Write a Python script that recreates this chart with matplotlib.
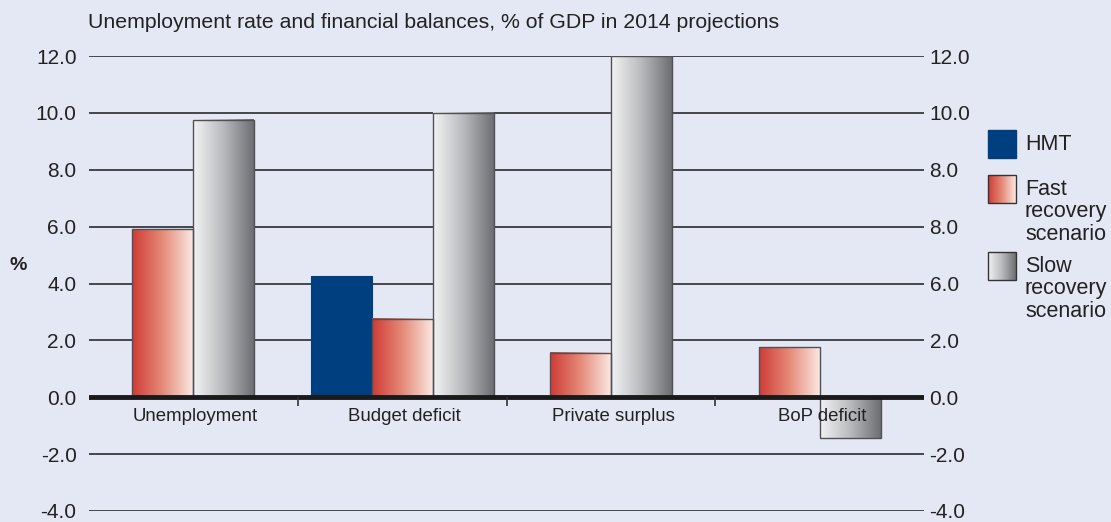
import numpy as np
import matplotlib
matplotlib.use("Agg")
import matplotlib.pyplot as plt
from matplotlib.colors import LinearSegmentedColormap

plt.rcParams['font.family'] = ['Liberation Sans', 'DejaVu Sans']

categories = ["Unemployment", "Budget deficit", "Private surplus", "BoP deficit"]
hmt = [None, 4.25, None, None]
fast = [5.9, 2.75, 1.55, 1.75]
slow = [9.75, 10.0, 12.0, -1.45]
left_ticks = [12.0, 10.0, 8.0, 6.0, 4.0, 2.0, 0.0, -2.0, -4.0]
right_tick_labels = ["12.0", "10.0", "8.0", "8.0", "6.0", "2.0", "0.0", "-2.0", "-4.0"]
series_names = ["HMT", "Fast\nrecovery\nscenario", "Slow\nrecovery\nscenario"]
title = "Unemployment rate and financial balances, % of GDP in 2014 projections"

BG = "#e4e8f5"
BLUE = "#003f7f"
TXT = "#222222"
red_cmap = LinearSegmentedColormap.from_list("r", ["#cf3b35", "#e58a78", "#fbe8e2"])
grey_cmap = LinearSegmentedColormap.from_list("g", ["#f2f3f4", "#b8babd", "#6c6e72"])
grad = np.linspace(0, 1, 256).reshape(1, -1)

W, H = 1111, 522
fig = plt.figure(figsize=(W / 100, H / 100), dpi=100, facecolor=BG)
ax = fig.add_axes([89 / W, 1 - 511 / H, (924 - 89) / W, (511 - 56) / H])
ax.set_facecolor(BG)
ax.set_xlim(-0.5, 3.5)
ax.set_ylim(-4, 12)
for s in ax.spines.values():
    s.set_visible(False)

for t in left_ticks:
    if t != 0:
        ax.axhline(t, color="#45454c", lw=1.4, zorder=0)

w = 0.292


def draw_bar(x, v, kind):
    if v is None:
        return
    if kind == "hmt":
        ax.bar(x, v, width=w, color=BLUE, edgecolor=BLUE, lw=0.8, zorder=2)
        return
    cmap = red_cmap if kind == "fast" else grey_cmap
    ax.bar(x, v, width=w, color="none", edgecolor="#505055", lw=1.0, zorder=3)
    lo, hi = min(0, v), max(0, v)
    ax.imshow(grad, cmap=cmap, aspect="auto", extent=[x - w / 2, x + w / 2, lo, hi],
              zorder=2, interpolation="bilinear")


for i in range(len(categories)):
    if hmt[i] is not None:
        offs = [-w, 0, w]
    else:
        offs = [None, -w / 2, w / 2]
    if offs[0] is not None:
        draw_bar(i + offs[0], hmt[i], "hmt")
    draw_bar(i + offs[1], fast[i], "fast")
    draw_bar(i + offs[2], slow[i], "slow")
    ax.text(i + 0.01, -0.66, categories[i], ha="center", va="center", fontsize=13.4, color=TXT, zorder=4)

ax.set_xlim(-0.5, 3.5)
ax.set_ylim(-4, 12)
ax.axhline(0, color="#1a1a1a", lw=3.5, zorder=4)
ax.vlines([0.5, 1.5, 2.5], -0.3, 0, color="#333333", lw=1.2, zorder=4)

ax.set_xticks([])
ax.set_yticks(left_ticks)
ax.set_yticklabels([f"{t:.1f}" for t in left_ticks], fontsize=15, color=TXT)
ax.tick_params(axis="y", length=0, pad=9)

ax2 = ax.twinx()
ax2.set_ylim(-4, 12)
for s in ax2.spines.values():
    s.set_visible(False)
ax2.set_yticks(left_ticks)
ax2.set_yticklabels(right_tick_labels, fontsize=15, color=TXT)
ax2.tick_params(axis="y", length=0, pad=4)

fig.text(88 / W, 1 - 23 / H, title, ha="left", va="center", fontsize=15.3, color=TXT)
fig.text(18 / W, 1 - 266 / H, "%", ha="center", va="center", fontsize=14, fontweight="bold", color=TXT)

# legend
lg = fig.add_axes([0, 0, 1, 1], facecolor="none")
lg.set_xlim(0, W)
lg.set_ylim(H, 0)
lg.axis("off")
boxes = [(130, "hmt"), (175, "fast"), (252, "slow")]
for (y0, kind), name in zip(boxes, series_names):
    x0, sz = 988, 28
    if kind == "hmt":
        lg.add_patch(plt.Rectangle((x0, y0), sz, sz, facecolor=BLUE, edgecolor=BLUE))
    else:
        cmap = red_cmap if kind == "fast" else grey_cmap
        lg.imshow(grad, cmap=cmap, aspect="auto", extent=[x0, x0 + sz, y0 + sz, y0], interpolation="bilinear")
        lg.add_patch(plt.Rectangle((x0, y0), sz, sz, facecolor="none", edgecolor="#333333", lw=1.0))
    lg.text(1025, y0 + 4, name, ha="left", va="top", fontsize=15.5, color=TXT, linespacing=1.08)
lg.set_xlim(0, W)
lg.set_ylim(H, 0)

fig.savefig("out.png", dpi=100, facecolor=BG)
